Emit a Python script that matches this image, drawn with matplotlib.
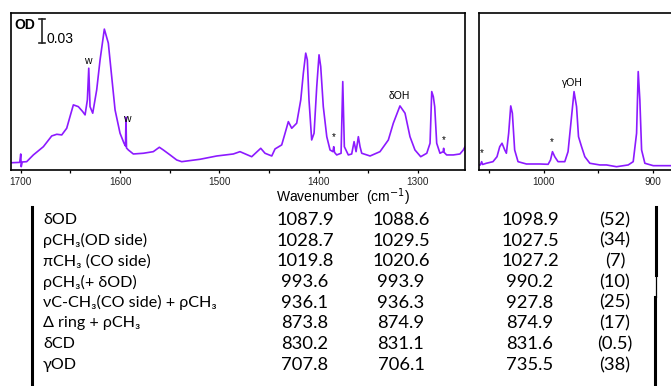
import matplotlib
matplotlib.use("Agg")
import matplotlib.pyplot as plt
from matplotlib.lines import Line2D
from matplotlib.ticker import MultipleLocator

# spectrum, left window (wavenumber in cm-1, OD)
left_wn = [1708.8, 1701.0, 1700.0, 1699.5, 1698.5, 1694.0, 1687.3, 1677.2, 1668.8, 1663.7,
           1658.7, 1653.7, 1650.4, 1647.0, 1642.0, 1637.6, 1635.2, 1632.9, 1631.5, 1630.2,
           1627.5, 1623.5, 1620.1, 1615.8, 1611.8, 1608.4, 1605.0, 1600.0, 1596.0, 1594.5,
           1594.0, 1593.5, 1591.6, 1586.6, 1576.5, 1566.5, 1560.4, 1556.4, 1549.6, 1542.9,
           1537.9, 1519.4, 1502.6, 1485.9, 1479.2, 1467.4, 1458.3, 1454.0, 1447.2, 1443.9,
           1437.2, 1433.8, 1430.5, 1427.1, 1422.1, 1418.0, 1415.4, 1413.0, 1411.4, 1409.7,
           1407.0, 1404.6, 1401.9, 1399.6, 1397.9, 1395.3, 1391.8, 1388.5, 1385.6, 1384.8,
           1384.0, 1381.8, 1377.4, 1375.7, 1374.1, 1370.1, 1366.7, 1364.3, 1362.3, 1360.0,
           1358.3, 1356.6, 1348.2, 1338.2, 1329.8, 1324.8, 1318.1, 1313.0, 1308.0, 1303.0,
           1297.2, 1291.1, 1287.8, 1286.1, 1284.5, 1283.1, 1281.1, 1277.8, 1274.6, 1274.1,
           1273.6, 1271.1, 1264.4, 1257.7, 1254.3, 1252.6]
left_od = [0.0091, 0.0095, 0.0200, 0.0041, 0.0100, 0.0104, 0.0188, 0.0291, 0.0425, 0.0446,
           0.0438, 0.0521, 0.0666, 0.0813, 0.0791, 0.0729, 0.0688, 0.0875, 0.1271, 0.0791,
           0.0709, 0.1000, 0.1375, 0.1759, 0.1584, 0.1166, 0.0750, 0.0459, 0.0334, 0.0300,
           0.0659, 0.0275, 0.0250, 0.0200, 0.0209, 0.0229, 0.0284, 0.0250, 0.0188, 0.0125,
           0.0104, 0.0134, 0.0175, 0.0200, 0.0229, 0.0166, 0.0271, 0.0209, 0.0175, 0.0263,
           0.0313, 0.0459, 0.0604, 0.0521, 0.0584, 0.0875, 0.1209, 0.1459, 0.1375, 0.0875,
           0.0375, 0.0459, 0.1041, 0.1438, 0.1291, 0.0791, 0.0416, 0.0250, 0.0229, 0.0291,
           0.0220, 0.0188, 0.0209, 0.1104, 0.0291, 0.0188, 0.0200, 0.0354, 0.0229, 0.0416,
           0.0291, 0.0209, 0.0175, 0.0229, 0.0375, 0.0584, 0.0800, 0.0709, 0.0416, 0.0250,
           0.0166, 0.0209, 0.0334, 0.0979, 0.0916, 0.0791, 0.0334, 0.0209, 0.0229, 0.0271,
           0.0220, 0.0188, 0.0188, 0.0200, 0.0250, 0.0290]

# spectrum, right window
right_wn = [1059.7, 1058.2, 1057.0, 1056.1, 1052.7, 1046.6, 1042.9, 1040.4, 1038.3, 1035.8,
            1034.3, 1032.2, 1030.3, 1028.8, 1026.7, 1023.6, 1015.9, 1003.7, 996.0, 993.8,
            992.0, 989.9, 986.9, 980.7, 977.7, 974.5, 972.2, 969.9, 968.1, 965.3,
            962.3, 957.7, 948.5, 942.4, 933.2, 922.5, 917.9, 914.8, 913.3, 911.8,
            910.2, 907.2, 899.5, 883.3, 880.0]
right_od = [0.0063, 0.0063, 0.0104, 0.0069, 0.0084, 0.0104, 0.0166, 0.0291, 0.0334, 0.0250,
            0.0209, 0.0459, 0.0800, 0.0709, 0.0250, 0.0104, 0.0075, 0.0075, 0.0071, 0.0125,
            0.0229, 0.0166, 0.0104, 0.0104, 0.0229, 0.0666, 0.0979, 0.0791, 0.0416, 0.0291,
            0.0166, 0.0084, 0.0063, 0.0063, 0.0041, 0.0063, 0.0104, 0.0459, 0.1229, 0.0875,
            0.0250, 0.0084, 0.0054, 0.0054, 0.0054]

# peak labels: (wavenumber, OD, text)
left_marks = [(1632.9, 0.136, "w"), (1593.3, 0.0634, "w"), (1319.0, 0.0925, "δOH"),
              (1384.8, 0.0409, "*"), (1274.0, 0.0375, "*")]
right_marks = [(1056.7, 0.0209, "*"), (992.4, 0.0354, "*"), (973.3, 0.1091, "γOH")]

# assignment table
modes = ["δOD", "ρCH₃(OD side)", "πCH₃ (CO side)", "ρCH₃(+ δOD)",
         "νC-CH₃(CO side) + ρCH₃", "Δ ring + ρCH₃", "δCD", "γOD"]
calc_a = [1087.9, 1028.7, 1019.8, 993.6, 936.1, 873.8, 830.2, 707.8]
calc_b = [1088.6, 1029.5, 1020.6, 993.9, 936.3, 874.9, 831.1, 706.1]
expt = [1098.9, 1027.5, 1027.2, 990.2, 927.8, 874.9, 831.6, 735.5]
intensity = [52, 34, 7, 10, 25, 17, 0.5, 38]

W, H = 671, 386
purple = "#8c1aff"


def px(x, y):
	# pixel position (from top-left) to figure fraction
	return x / W, 1 - y / H


fig = plt.figure(figsize=(W / 100, H / 100), dpi=100)
plt.rcParams["font.family"] = ["Liberation Sans", "DejaVu Sans"]

y_top = 0.196
axL = fig.add_axes([11 / W, 1 - 170 / H, 454 / W, 157 / H])
axR = fig.add_axes([478.7 / W, 1 - 170 / H, 195.8 / W, 157 / H])

axL.plot(left_wn, left_od, color=purple, lw=1.2)
axR.plot(right_wn, right_od, color=purple, lw=1.2)
axL.set_xlim(1709.8, 1252.6)
axR.set_xlim(1059.7, 880.0)

for ax in (axL, axR):
	ax.set_ylim(0, y_top)
	ax.set_yticks([])
	ax.xaxis.set_major_locator(MultipleLocator(100))
	ax.xaxis.set_minor_locator(MultipleLocator(50))
	ax.tick_params(axis="x", which="both", direction="out", length=2.5, width=0.9,
	               labelsize=7.2, pad=2.5, labelcolor="#222222")
	for s in ax.spines.values():
		s.set_linewidth(1.2)

for x, y, t in left_marks:
	axL.text(x, y, t, ha="center", va="center", fontsize=7.5 if t != "*" else 7)
for x, y, t in right_marks:
	axR.text(x, y, t, ha="center", va="center", fontsize=7.5 if t != "*" else 7)

# OD scale bar (0.03)
bar_x, bar_y0 = 1678.9, 0.1588
axL.plot([bar_x, bar_x], [bar_y0, bar_y0 + 0.03], color="#222222", lw=1.2)
axL.plot([bar_x - 3, bar_x + 3], [bar_y0, bar_y0], color="#222222", lw=1.2)
axL.plot([bar_x - 3, bar_x + 3], [bar_y0 + 0.03, bar_y0 + 0.03], color="#222222", lw=1.2)
axL.text(bar_x - 5, bar_y0, "0.03", ha="left", va="baseline", fontsize=10)
fig.text(*px(14, 25), "OD", ha="left", va="center", fontsize=10, fontweight="bold")

fig.text(*px(342.5, 197.5), "Wavenumber  (cm$^{-1}$)", ha="center", va="center", fontsize=10)

# table
tfont = ["Lato", "DejaVu Sans"]
row_y = [220, 240.7, 261.3, 282, 302.5, 323, 344, 365]
for i in range(len(modes)):
	y = row_y[i]
	fig.text(*px(43, y), modes[i], ha="left", va="center", fontsize=11.6, family=tfont)
	fig.text(*px(305, y), "%.1f" % calc_a[i], ha="center", va="center", fontsize=13.2, family=tfont)
	fig.text(*px(401, y), "%.1f" % calc_b[i], ha="center", va="center", fontsize=13.2, family=tfont)
	fig.text(*px(530, y), "%.1f" % expt[i], ha="center", va="center", fontsize=13.2, family=tfont)
	fig.text(*px(615, y), "(%g)" % intensity[i], ha="center", va="center", fontsize=13.2, family=tfont)

# table borders
fig.add_artist(Line2D([31.7 / W, 31.7 / W], [1 - 207 / H, 0], color="black", lw=2.2))
fig.add_artist(Line2D([655.5 / W, 655.5 / W], [1 - 207 / H, 1 - 275 / H], color="black", lw=2.2))
fig.add_artist(Line2D([656 / W, 656 / W], [1 - 275 / H, 1 - 297 / H], color="black", lw=0.9))
fig.add_artist(Line2D([654.5 / W, 654.5 / W], [1 - 297 / H, 0], color="black", lw=2.2))

fig.savefig("out.png", dpi=100)
